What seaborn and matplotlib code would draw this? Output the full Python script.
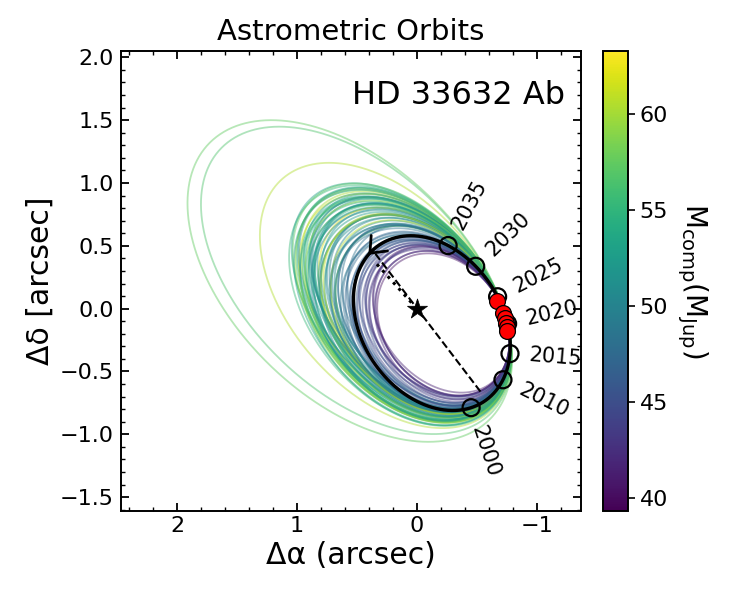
import numpy as np
import pandas as pd
import matplotlib
matplotlib.use("Agg")
import matplotlib.pyplot as plt
import seaborn as sns
from matplotlib.colors import Normalize
from matplotlib.cm import ScalarMappable
from matplotlib.ticker import MultipleLocator

# ---------------- chart values ----------------
title = "Astrometric Orbits"
target_name = "HD 33632 Ab"
xlabel = "Δα (arcsec)"
ylabel = "Δδ [arcsec]"
cbar_label = r"$\mathrm{M_{comp}(M_{Jup})}$"
mass_min, mass_max = 39.3, 63.3
cbar_ticks = [40, 45, 50, 55, 60]
x_limits = (2.47, -1.37)
y_limits = (-1.61, 2.05)

# point on the data arc through which all orbits pass (arcsec)
anchor_dra = -0.751
anchor_ddec = -0.096
tangent_ratio = 0.276          # x/y ratio of the orbit direction at the anchor

# best-fit orbit: conjugate semi-diameters measured from the anchor
best_u = (-0.626, 0.019)
best_wy = -0.695

# sampled orbits: mass and conjugate semi-diameters (arcsec)
orbit_mass = [40.6, 41.4, 42.1, 42.9, 43.5, 44.2, 44.8, 45.3, 45.9, 43.2, 44.5, 46.2, 41.9, 45.6, 42.6, 44.0, 46.0,
              46.6, 47.0, 47.5, 47.9, 48.3, 48.7, 49.1, 49.5, 46.9, 48.0, 47.3, 49.8, 48.5, 47.7, 49.3,
              50.2, 50.6, 51.0, 51.4, 51.8, 52.2, 52.6, 53.0, 53.4, 53.8, 50.4, 51.2, 52.0, 52.8, 53.6, 50.8,
              51.6, 49.6, 52.4, 53.2, 50.0, 51.1, 49.9, 52.9,
              54.2, 54.8, 49.2, 55.9, 56.5, 57.1, 57.7, 54.5, 55.4,
              51.3, 58.9, 59.5, 60.2, 50.9, 61.5, 62.2, 52.7, 59.2, 61.0, 60.6, 58.4,
              57.4, 56.6, 60.4]
orbit_ux = [-0.530, -0.548, -0.540, -0.575, -0.560, -0.590, -0.605, -0.575, -0.615, -0.545, -0.610, -0.625, -0.536, -0.600, -0.565, -0.580, -0.635,
            -0.640, -0.655, -0.630, -0.670, -0.650, -0.680, -0.690, -0.700, -0.645, -0.675, -0.660, -0.715, -0.705, -0.690, -0.725,
            -0.720, -0.735, -0.705, -0.745, -0.760, -0.770, -0.785, -0.795, -0.810, -0.820, -0.760, -0.790, -0.810, -0.830, -0.845, -0.740,
            -0.775, -0.725, -0.855, -0.870, -0.800, -0.850, -0.765, -0.880,
            -0.825, -0.845, -0.800, -0.860, -0.835, -0.875, -0.815, -0.785, -0.890,
            -0.795, -0.825, -0.760, -0.840, -0.790, -0.850, -0.770, -0.805, -0.865, -0.750, -0.720, -0.700,
            -1.311, -1.256, -1.011]
orbit_uy = [0.030, -0.010, 0.035, 0.000, 0.030, 0.025, -0.015, 0.025, 0.020, 0.005, 0.030, -0.010, 0.020, 0.020, 0.015, -0.005, 0.030,
            0.010, -0.020, 0.030, 0.005, -0.040, 0.020, -0.030, -0.010, 0.025, -0.050, 0.020, -0.060, 0.000, -0.035, -0.020,
            -0.010, -0.070, -0.045, -0.030, -0.085, -0.050, -0.100, -0.060, -0.120, -0.080, -0.040, -0.095, -0.065, -0.125, -0.090, -0.060,
            -0.110, -0.075, -0.140, -0.105, -0.130, -0.150, -0.020, -0.160,
            -0.110, -0.070, -0.050, -0.130, -0.095, -0.145, -0.060, -0.090, -0.120,
            -0.120, -0.075, -0.035, -0.130, -0.045, -0.100, -0.080, -0.140, -0.115, -0.055, -0.030, -0.010,
            -0.316, -0.321, -0.201]
orbit_wy = [-0.565, -0.582, -0.590, -0.601, -0.612, -0.628, -0.640, -0.633, -0.655, -0.596, -0.646, -0.664, -0.574, -0.660, -0.585, -0.618, -0.672,
            -0.676, -0.690, -0.698, -0.707, -0.716, -0.702, -0.730, -0.744, -0.672, -0.722, -0.712, -0.756, -0.736, -0.725, -0.748,
            -0.762, -0.774, -0.750, -0.790, -0.800, -0.814, -0.828, -0.842, -0.850, -0.866, -0.806, -0.836, -0.860, -0.880, -0.896, -0.782,
            -0.818, -0.770, -0.912, -0.930, -0.845, -0.890, -0.820, -0.920,
            -0.870, -0.900, -0.846, -0.918, -0.884, -0.936, -0.862, -0.826, -0.950,
            -0.840, -0.878, -0.806, -0.890, -0.834, -0.906, -0.818, -0.856, -0.922, -0.796, -0.770, -0.745,
            -1.240, -1.180, -1.036]

# epochs marked on the best orbit (orbital phase from the anchor, degrees)
epoch_years = [2000, 2010, 2015, 2020, 2025, 2030, 2035]
epoch_phase_deg = [77, 42, 22, 2, -16, -39, -61]

# measured relative astrometry (arcsec)
obs_dra = [-0.668, -0.718, -0.735, -0.743, -0.751, -0.751]
obs_ddec = [0.064, -0.032, -0.072, -0.111, -0.143, -0.175]

nodes_angle_deg = 51.3     # line of nodes direction (data frame)
peri_angle_deg = 46.5      # periastron direction (data frame)
arrow_phase_deg = -127     # motion arrow position on best orbit


def orbit_xy(ux, uy, wy, t):
    wx = tangent_ratio * wy
    x = anchor_dra + ux * (np.cos(t) - 1) + wx * np.sin(t)
    y = anchor_ddec + uy * (np.cos(t) - 1) + wy * np.sin(t)
    return x, y


def orbit_deriv(ux, uy, wy, t):
    wx = tangent_ratio * wy
    return (-ux * np.sin(t) + wx * np.cos(t), -uy * np.sin(t) + wy * np.cos(t))


# ---------------- figure ----------------
sns.set_style("ticks")
plt.rcParams["font.family"] = ["DejaVu Sans"]
plt.rcParams["mathtext.fontset"] = "dejavusans"
for key in ["text.color", "axes.labelcolor", "xtick.color", "ytick.color", "axes.edgecolor"]:
    plt.rcParams[key] = "black"

fig = plt.figure(figsize=(7.32, 5.95), dpi=100)
ax = fig.add_axes([121 / 732, 1 - 511 / 595, 460 / 732, 460 / 595])
cax = fig.add_axes([603 / 732, 1 - 511 / 595, 25 / 732, 460 / 595])
ax.set_xlim(*x_limits)
ax.set_ylim(*y_limits)

norm = Normalize(vmin=mass_min, vmax=mass_max)
cmap = plt.get_cmap("viridis")
tt = np.linspace(0, 2 * np.pi, 500)

rows = []
for k, (m, ux, uy, wy) in enumerate(zip(orbit_mass, orbit_ux, orbit_uy, orbit_wy)):
    x, y = orbit_xy(ux, uy, wy, tt)
    rows.append(pd.DataFrame({"orbit": k, "step": np.arange(len(tt)), "dra": x, "ddec": y, "mass": m}))
df = pd.concat(rows, ignore_index=True)

n_orb = len(orbit_mass)
draw_order = [(k * 29) % n_orb for k in range(n_orb)]   # mixed drawing order
orbit_palette = {k: cmap(norm(m)) for k, m in enumerate(orbit_mass)}

sns.lineplot(data=df, x="dra", y="ddec", hue="orbit", units="orbit", estimator=None, sort=False,
             palette=orbit_palette, hue_order=draw_order, alpha=0.45, linewidth=1.3,
             legend=False, ax=ax, zorder=2)

# best orbit
bx, by = orbit_xy(best_u[0], best_u[1], best_wy, tt)
best_df = pd.DataFrame({"dra": bx, "ddec": by})
sns.lineplot(data=best_df, x="dra", y="ddec", sort=False, estimator=None, color="black",
             linewidth=2.4, ax=ax, zorder=4)

# motion arrow
ta = np.deg2rad(arrow_phase_deg)
tip = orbit_xy(best_u[0], best_u[1], best_wy, ta)
tail = orbit_xy(best_u[0], best_u[1], best_wy, ta + np.deg2rad(5))
ax.annotate("", xy=tip, xytext=tail,
            arrowprops=dict(arrowstyle="->,head_length=0.55,head_width=0.45", color="black",
                            lw=2.0, mutation_scale=18, shrinkA=0, shrinkB=0), zorder=5)

# line of nodes and periastron
ang = np.degrees(np.arctan2(by, bx))
def closest(a):
    d = np.abs((ang - a + 180) % 360 - 180)
    i = np.argmin(d)
    return bx[i], by[i]
n1 = closest(nodes_angle_deg)
n2 = closest(nodes_angle_deg + 180)
ax.plot([n1[0] * 0.94, n2[0] * 0.94], [n1[1] * 0.94, n2[1] * 0.94], ls="--", color="black", lw=1.5, zorder=4)
pp = closest(peri_angle_deg)
ax.plot([0, pp[0] * 0.88], [0, pp[1] * 0.88], ls=":", color="black", lw=2.2, zorder=4)

# epochs
ep = np.deg2rad(epoch_phase_deg)
ex, ey = orbit_xy(best_u[0], best_u[1], best_wy, ep)
sns.scatterplot(x=ex, y=ey, s=150, marker="o", facecolors="none", edgecolor="black",
                linewidth=1.6, ax=ax, zorder=6, legend=False)
ax.collections[-1].set_facecolor("none")
ax.collections[-1].set_edgecolor("black")

# measurements
sns.scatterplot(x=obs_dra, y=obs_ddec, s=130, color="red", edgecolor="black", linewidth=0.9,
                ax=ax, zorder=7, legend=False)

# host star
sns.scatterplot(x=[0.0], y=[0.0], s=230, marker="*", color="black", edgecolor="black",
                linewidth=0.5, ax=ax, zorder=8, legend=False)

# epoch labels along the outward normal
cen = (anchor_dra - best_u[0], anchor_ddec - best_u[1])
trans = ax.transData
inv = trans.inverted()
Cd = trans.transform(cen)
off = 33 * fig.dpi / 72
for yr, t, px, py in zip(epoch_years, ep, ex, ey):
    dx, dy = orbit_deriv(best_u[0], best_u[1], best_wy, t)
    P = trans.transform((px, py))
    Q = trans.transform((px + 1e-3 * dx, py + 1e-3 * dy))
    tv = (Q - P) / np.hypot(*(Q - P))
    nv = np.array([tv[1], -tv[0]])
    if np.dot(nv, P - Cd) < 0:
        nv = -nv
    a = np.degrees(np.arctan2(nv[1], nv[0]))
    if a > 90:
        a -= 180
    elif a < -90:
        a += 180
    L = inv.transform(P + nv * off)
    ax.text(L[0], L[1], str(yr), rotation=a, rotation_mode="anchor", ha="center", va="center",
            fontsize=15, zorder=9)

ax.text(0.965, 0.904, target_name, transform=ax.transAxes, ha="right", va="center", fontsize=23)

ax.set_title(title, fontsize=21, pad=8)
ax.set_xlabel(xlabel, fontsize=21.5)
ax.set_ylabel(ylabel, fontsize=21.5)

ax.xaxis.set_major_locator(MultipleLocator(1))
ax.xaxis.set_minor_locator(MultipleLocator(0.2))
ax.yaxis.set_major_locator(MultipleLocator(0.5))
ax.yaxis.set_minor_locator(MultipleLocator(0.1))
ax.tick_params(which="both", direction="in", top=True, right=True, labelsize=16, color="black")
ax.tick_params(which="major", length=6, width=1.3)
ax.tick_params(which="minor", length=3.2, width=1.0)
ax.tick_params(axis="y", pad=5)
for s in ax.spines.values():
    s.set_linewidth(1.4)
    s.set_color("black")

sm = ScalarMappable(norm=norm, cmap=cmap)
sm.set_array([])
cbar = fig.colorbar(sm, cax=cax)
cbar.set_ticks(cbar_ticks)
cbar.ax.tick_params(labelsize=16, length=5, width=1.2, direction="out")
cbar.outline.set_linewidth(1.4)
cbar.set_label(cbar_label, rotation=270, labelpad=30, fontsize=20)

fig.savefig("out.png", dpi=100)
